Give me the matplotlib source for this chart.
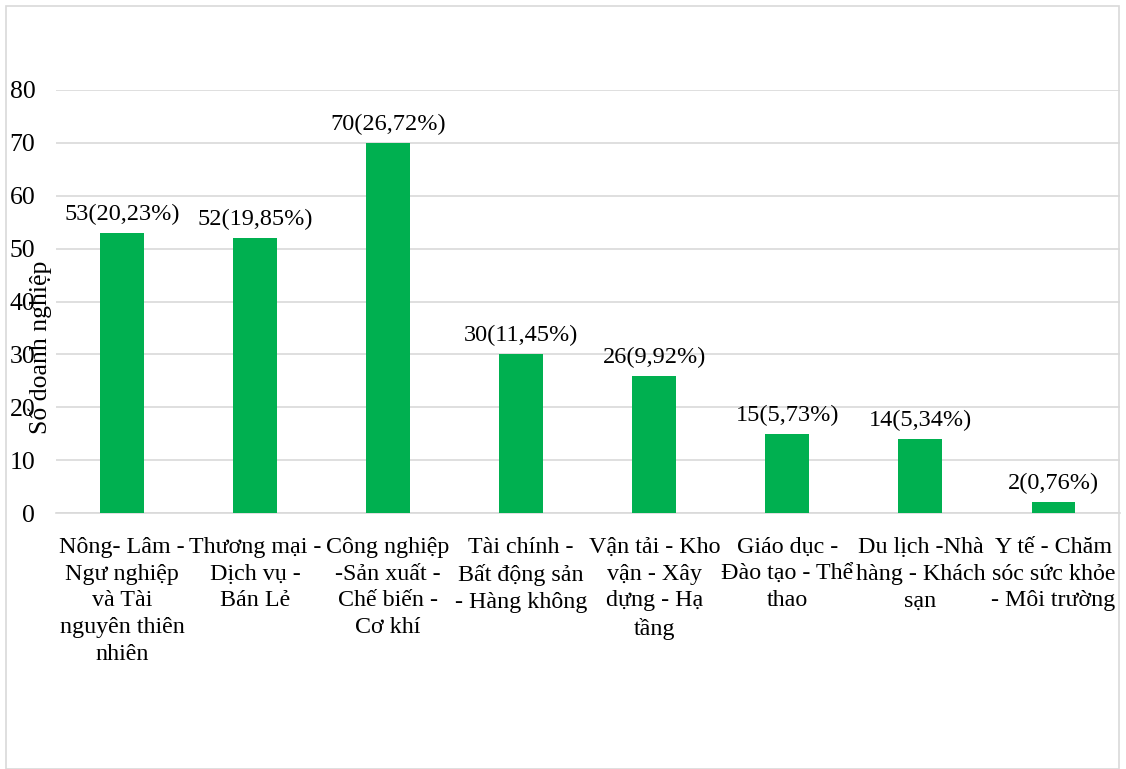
import matplotlib

matplotlib.use("Agg")
import matplotlib.pyplot as plt
from matplotlib.patches import Rectangle

categories = [
    "Nông- Lâm -\nNgư nghiệp\nvà Tài\nnguyên thiên\nnhiên",
    "Thương mại -\nDịch vụ -\nBán Lẻ",
    "Công nghiệp\n-Sản xuất -\nChế biến -\nCơ khí",
    "Tài chính -\nBất động sản\n- Hàng không",
    "Vận tải - Kho\nvận - Xây\ndựng - Hạ\ntầng",
    "Giáo dục -\nĐào tạo - Thể\nthao",
    "Du lịch -Nhà\nhàng - Khách\nsạn",
    "Y tế - Chăm\nsóc sức khỏe\n- Môi trường",
]
counts = [53, 52, 70, 30, 26, 15, 14, 2]
percents = ["20,23%", "19,85%", "26,72%", "11,45%", "9,92%", "5,73%", "5,34%", "0,76%"]
y_ticks = [0, 10, 20, 30, 40, 50, 60, 70, 80]

plt.rcParams["font.family"] = ["Liberation Serif", "DejaVu Serif"]

W, H = 1126, 769
fig = plt.figure(figsize=(W / 100, H / 100), dpi=100)
ax = fig.add_axes([55.5 / W, 1 - 513 / H, (1120 - 55.5) / W, (513 - 90) / H])

x = list(range(len(categories)))
ax.bar(x, counts, width=0.33, color="#00B050", zorder=3)
for xi, c, p in zip(x, counts, percents):
    ax.text(xi, c + 1.5, f"{c}({p})", ha="center", va="bottom", fontsize=17.5)

ax.set_xlim(-0.5, len(categories) - 0.5)
ax.set_ylim(0, 80)
ax.set_yticks(y_ticks)
ax.tick_params(axis="y", length=0, pad=14.5, labelsize=18.5)
ax.set_xticks(x)
ax.set_xticklabels(categories, fontsize=17.3, linespacing=1.37)
ax.tick_params(axis="x", length=0, pad=17)
ax.grid(axis="y", color="#D9D9D9", linewidth=1.2, zorder=0)
for side in ["top", "right", "left"]:
    ax.spines[side].set_visible(False)
ax.spines["bottom"].set_color("#D9D9D9")
ax.spines["bottom"].set_linewidth(1.2)

# the axis title sits over the tick labels, as in the source chart
fig.text(40 / W, 1 - 347 / H, "Số doanh nghiệp", rotation=90,
         ha="center", va="center", fontsize=18.5)

fig.patches.append(Rectangle((6 / W, 0), (1119 - 6) / W, 1 - 6 / H,
                             transform=fig.transFigure, fill=False,
                             edgecolor="#D9D9D9", linewidth=1.2))

fig.savefig("out.png", dpi=100)
